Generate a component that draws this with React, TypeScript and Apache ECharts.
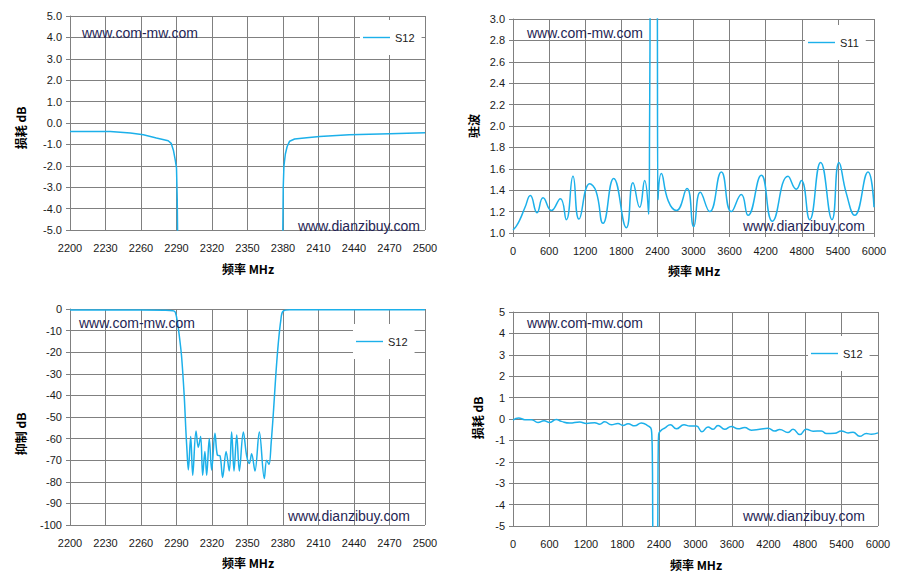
import React, { useEffect, useRef } from "react";
import * as echarts from "echarts";

// ---------- data ----------
const NARROW_BASE = 2200; // MHz, start of the narrow-band x axis

// Chart 1: S12 loss, 2200-2500 MHz
const LOSS_N_FREQ = [2200, 2215, 2234, 2251, 2262, 2273, 2283, 2285.5, 2287.5, 2289, 2290, 2290.6, 2291.5, 2335, 2379.3, 2380.2, 2380.8, 2382, 2383.5, 2385.6, 2389.8, 2400, 2411, 2436, 2470, 2500];
const LOSS_N_VAL: (number | null)[] = [-0.4, -0.4, -0.4, -0.47, -0.55, -0.7, -0.83, -0.95, -1.3, -1.75, -2.1, -3.5, -8, null, -8, -3.0, -2.0, -1.45, -1.1, -0.85, -0.75, -0.69, -0.63, -0.55, -0.5, -0.46];

// Chart 2: S11 VSWR, 0-6000 MHz
const VSWR_FREQ = [0, 50, 111, 200, 288, 399, 499, 637, 787, 886, 997, 1097, 1274, 1380, 1496, 1673, 1884, 1994, 2105, 2188, 2255, 2270, 2280, 2285, 2335, 2392, 2400, 2410, 2465, 2580, 2715, 2892, 3003, 3113, 3269, 3463, 3629, 3795, 3906, 4127, 4310, 4571, 4709, 4792, 4931, 5113, 5302, 5418, 5540, 5679, 5900, 6000];
const VSWR_VAL: (number | null)[] = [1.03, 1.06, 1.12, 1.24, 1.35, 1.19, 1.33, 1.21, 1.32, 1.125, 1.53, 1.13, 1.46, 1.39, 1.09, 1.51, 1.05, 1.47, 1.24, 1.49, 1.175, 2.0, 3.5, 6, null, 6, 3.0, 1.31, 1.556, 1.3, 1.21, 1.415, 1.06, 1.38, 1.2, 1.57, 1.2, 1.36, 1.165, 1.54, 1.11, 1.53, 1.41, 1.49, 1.125, 1.66, 1.125, 1.66, 1.37, 1.165, 1.57, 1.24];

// Chart 3: S12 rejection, 2200-2500 MHz
const REJ_FREQ = [2200, 2240, 2280, 2287, 2289, 2290.9, 2292.5, 2294.3, 2296.5, 2297.9, 2298.8, 2300, 2302, 2303.7, 2306.5, 2308.4, 2310.4, 2312.1, 2314, 2315.5, 2317.7, 2319.7, 2322.5, 2324.5, 2326.8, 2329, 2331.9, 2334.6, 2336.6, 2338.6, 2340.9, 2343.1, 2346.5, 2349.3, 2351.6, 2353.5, 2356.3, 2360, 2364.2, 2366.2, 2368.2, 2370, 2372, 2374, 2376, 2378.2, 2380, 2385.8, 2420, 2460, 2500];
const REJ_VAL = [-0.5, -0.5, -0.6, -0.8, -1.5, -6.5, -13, -22, -40, -56, -65, -74.5, -59, -77, -56.5, -64, -59, -77, -66, -77, -60, -74.5, -57.5, -67.6, -68, -78, -66, -75, -57, -75, -58.3, -75, -57, -68, -71.5, -67, -75, -57, -78.5, -70, -72, -62, -47, -30, -16, -5, -1.1, -0.4, -0.4, -0.4, -0.4];

// Chart 4: S12 loss, 0-6000 MHz
const LOSS_W_FREQ = [0, 93, 192, 301, 411, 510, 603, 712, 795, 932, 1096, 1206, 1343, 1425, 1507, 1617, 1726, 1808, 1891, 2000, 2110, 2219, 2274, 2284, 2290, 2295, 2300, 2335, 2378, 2383, 2388, 2395, 2439, 2493, 2587, 2685, 2811, 2904, 3014, 3107, 3206, 3288, 3370, 3480, 3589, 3699, 3809, 3918, 4055, 4192, 4302, 4384, 4521, 4603, 4713, 4822, 4932, 5069, 5151, 5288, 5398, 5507, 5590, 5699, 5808, 5891, 6000];
const LOSS_W_VAL: (number | null)[] = [-0.05, 0.05, -0.03, -0.03, -0.16, -0.08, -0.16, -0.02, -0.11, -0.19, -0.14, -0.21, -0.17, -0.24, -0.13, -0.27, -0.21, -0.3, -0.22, -0.32, -0.19, -0.32, -0.48, -0.9, -1.6, -3.5, -7, null, -7, -3.0, -1.3, -0.71, -0.52, -0.43, -0.27, -0.46, -0.27, -0.33, -0.33, -0.59, -0.37, -0.48, -0.3, -0.48, -0.35, -0.46, -0.4, -0.52, -0.48, -0.43, -0.56, -0.49, -0.63, -0.48, -0.73, -0.48, -0.57, -0.56, -0.68, -0.67, -0.56, -0.65, -0.62, -0.81, -0.68, -0.71, -0.65];

const X_TITLE = "频率 MHz";
const Y_TITLES = ["损耗 dB", "驻波", "抑制 dB", "损耗 dB"];
const SERIES_NAMES = ["S12", "S11", "S12", "S12"];
const WATERMARK_TOP = "www.com-mw.com";
const WATERMARK_BOTTOM = "www.dianzibuy.com";

// ---------- style ----------
const LINE_COLOR = "#1cb0ea";
const GRID_COLOR = "#808080";
const LABEL_COLOR = "#1a1a1a";
const WM_COLOR = "#1f1f55";
const NUM_FONT = '"Liberation Sans", Arial, sans-serif';
const CJK_FONT = '"Noto Sans CJK SC", "Liberation Sans", sans-serif';

const GRIDS = [
  { left: 70, top: 16, width: 355, height: 214 },
  { left: 513, top: 19, width: 361, height: 214 },
  { left: 70, top: 309, width: 355, height: 216 },
  { left: 513, top: 312, width: 365, height: 214 },
];

function pairs(fs: number[], vs: (number | null)[], base = 0) {
  return fs.map((f, i) => [f - base, vs[i] === null ? "-" : vs[i]]);
}

function axisCommon() {
  return {
    axisLine: { show: true, lineStyle: { color: GRID_COLOR, width: 1 } },
    axisTick: { show: true, length: 4, lineStyle: { color: GRID_COLOR, width: 1 } },
    splitLine: { show: true, lineStyle: { color: GRID_COLOR, width: 1 } },
  };
}

function label(margin: number, formatter: (v: number) => string) {
  return { color: LABEL_COLOR, fontSize: 11, fontFamily: NUM_FONT, margin, formatter };
}

function text(x: number, y: number, t: string, font: string, fill: string, align: string, rotation = 0) {
  return {
    type: "text",
    x,
    y,
    rotation,
    z: 10,
    style: {
      text: t,
      font,
      fill,
      align,
      verticalAlign: "middle",
      textAlign: align,
      textVerticalAlign: "middle",
    },
  };
}

export default function App() {
  const ref = useRef<HTMLDivElement>(null);

  useEffect(() => {
    if (!ref.current) return;
    const chart = echarts.init(ref.current, undefined, { renderer: "svg" });

    const narrowFmt = (v: number) => String(v + NARROW_BASE);
    const plainFmt = (v: number) => String(v);
    const oneDec = (v: number) => v.toFixed(1);

    const xAxes = [
      { gridIndex: 0, type: "value", min: 0, max: 300, interval: 30, ...axisCommon(), axisLabel: label(12, narrowFmt) },
      { gridIndex: 1, type: "value", min: 0, max: 6000, interval: 600, ...axisCommon(), axisLabel: label(12, plainFmt) },
      { gridIndex: 2, type: "value", min: 0, max: 300, interval: 30, ...axisCommon(), axisLabel: label(12, narrowFmt) },
      { gridIndex: 3, type: "value", min: 0, max: 6000, interval: 600, ...axisCommon(), axisLabel: label(12, plainFmt) },
    ];
    const yAxes = [
      { gridIndex: 0, type: "value", min: -5, max: 5, interval: 1, ...axisCommon(), axisLabel: label(8, oneDec) },
      { gridIndex: 1, type: "value", min: 1, max: 3, interval: 0.2, ...axisCommon(), axisLabel: label(8, oneDec) },
      { gridIndex: 2, type: "value", min: -100, max: 0, interval: 10, ...axisCommon(), axisLabel: label(8, plainFmt) },
      { gridIndex: 3, type: "value", min: -5, max: 5, interval: 1, ...axisCommon(), axisLabel: label(8, plainFmt) },
    ];

    const datasets = [
      pairs(LOSS_N_FREQ, LOSS_N_VAL, NARROW_BASE),
      pairs(VSWR_FREQ, VSWR_VAL),
      pairs(REJ_FREQ, REJ_VAL, NARROW_BASE),
      pairs(LOSS_W_FREQ, LOSS_W_VAL),
    ];
    const smooths = [false, 0.5, 0.35, 0.5];

    const series = datasets.map((d, i) => ({
      type: "line",
      name: SERIES_NAMES[i],
      xAxisIndex: i,
      yAxisIndex: i,
      data: d,
      symbol: "none",
      showSymbol: false,
      smooth: smooths[i],
      clip: true,
      connectNulls: false,
      lineStyle: { color: LINE_COLOR, width: 1.5 },
      itemStyle: { color: LINE_COLOR },
    }));

    const legendPos = [
      { left: 360, top: 20 },
      { left: 805, top: 25 },
      { left: 353, top: 324 },
      { left: 808, top: 336 },
    ];
    const legends = legendPos.map((p, i) => ({
      ...p,
      orient: "vertical",
      data: [{ name: SERIES_NAMES[i], icon: "rect" }],
      backgroundColor: "#ffffff",
      padding: [11, 7, 11, 3],
      itemWidth: 27,
      itemHeight: 1.4,
      itemGap: 4,
      selectedMode: false,
      itemStyle: { color: LINE_COLOR, borderWidth: 0 },
      textStyle: { color: LABEL_COLOR, fontSize: 11, fontFamily: NUM_FONT, lineHeight: 13 },
    }));

    const titleFont = `bold 12px ${CJK_FONT}`;
    const wmFont = `14px ${NUM_FONT}`;
    const graphic = [
      text(248, 268, X_TITLE, titleFont, "#000", "center"),
      text(694, 270, X_TITLE, titleFont, "#000", "center"),
      text(248, 562, X_TITLE, titleFont, "#000", "center"),
      text(696, 564, X_TITLE, titleFont, "#000", "center"),
      text(20, 128, Y_TITLES[0], titleFont, "#000", "center", Math.PI / 2),
      text(473, 126, Y_TITLES[1], titleFont, "#000", "center", Math.PI / 2),
      text(20, 434, Y_TITLES[2], titleFont, "#000", "center", Math.PI / 2),
      text(477, 418, Y_TITLES[3], titleFont, "#000", "center", Math.PI / 2),
      text(82, 33, WATERMARK_TOP, wmFont, WM_COLOR, "left"),
      text(298, 226, WATERMARK_BOTTOM, wmFont, WM_COLOR, "left"),
      text(527, 33, WATERMARK_TOP, wmFont, WM_COLOR, "left"),
      text(743, 226, WATERMARK_BOTTOM, wmFont, WM_COLOR, "left"),
      text(79, 323, WATERMARK_TOP, wmFont, WM_COLOR, "left"),
      text(288, 516, WATERMARK_BOTTOM, wmFont, WM_COLOR, "left"),
      text(527, 323, WATERMARK_TOP, wmFont, WM_COLOR, "left"),
      text(743, 516, WATERMARK_BOTTOM, wmFont, WM_COLOR, "left"),
    ];

    chart.setOption({
      animation: false,
      backgroundColor: "#ffffff",
      grid: GRIDS.map((g) => ({ ...g, containLabel: false })),
      xAxis: xAxes,
      yAxis: yAxes,
      legend: legends,
      series,
      graphic,
    } as any);

    return () => chart.dispose();
  }, []);

  return (
    <div
      ref={ref}
      style={{ position: "fixed", left: 0, top: 0, width: "901px", height: "581px", background: "#fff" }}
    />
  );
}
